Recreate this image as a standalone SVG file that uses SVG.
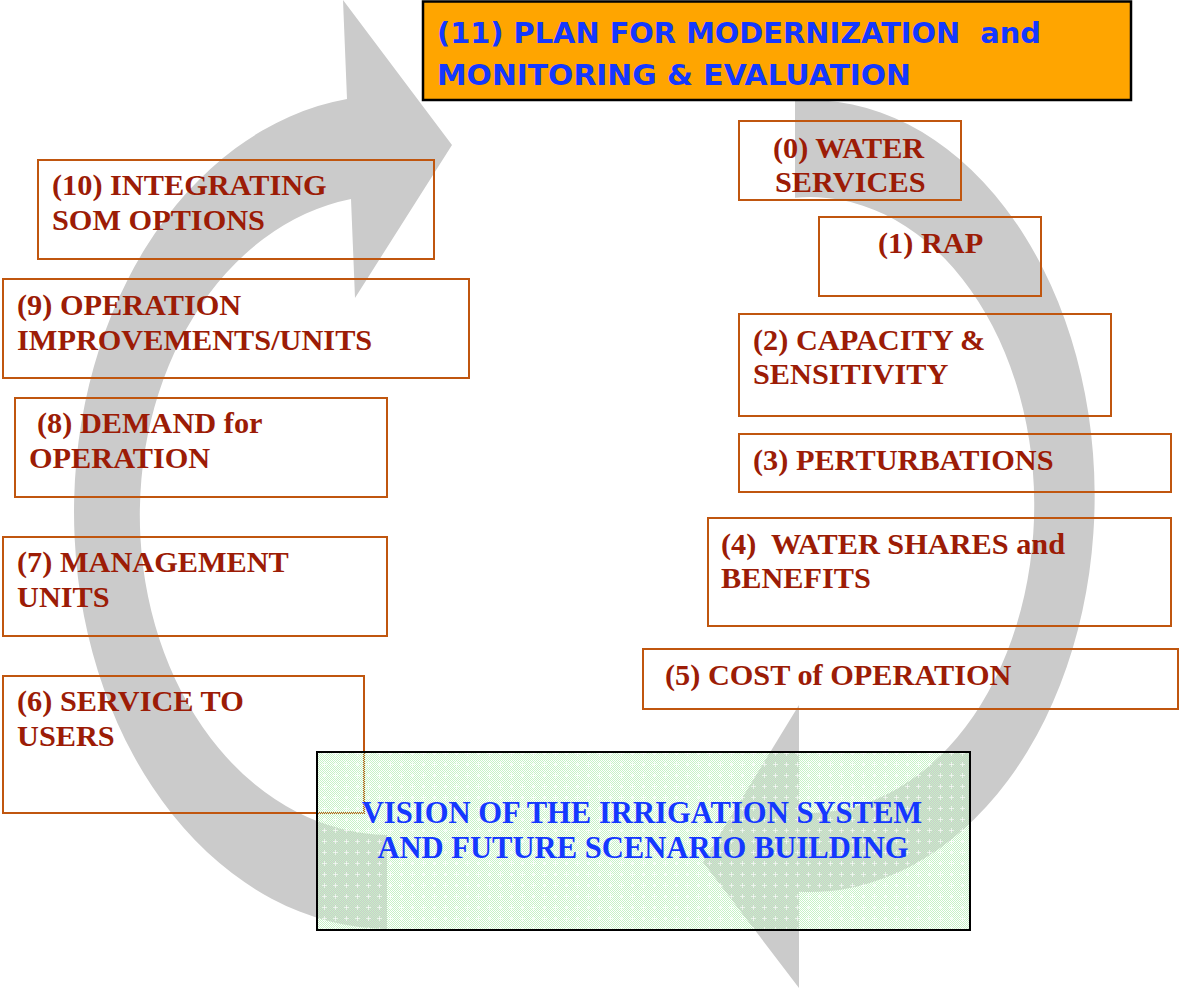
<svg xmlns="http://www.w3.org/2000/svg" width="1179" height="989" viewBox="0 0 1179 989">
<style>
.box{fill:none;stroke:#c0560f;stroke-width:2}
.lbl{font-family:"Liberation Serif","Times New Roman",serif;font-weight:bold;font-size:30.3px;fill:#9c1c06}
.vis{font-family:"Liberation Serif","Times New Roman",serif;font-weight:bold;font-size:30.6px;fill:#1438ff}
.plan{font-family:"DejaVu Sans",sans-serif;font-weight:bold;font-size:29px;fill:#1438ff}
.arrow{fill:#cbcbcb}
</style>
<defs>
<pattern id="chk" width="2" height="2" patternUnits="userSpaceOnUse">
<rect x="0" y="0" width="1" height="1" fill="#c6f2c6"/>
<rect x="1" y="1" width="1" height="1" fill="#c6f2c6"/>
</pattern>
<pattern id="crs" width="11" height="11" patternUnits="userSpaceOnUse">
<rect x="5" y="3" width="1" height="5" fill="#ffffff" fill-opacity="0.6"/>
<rect x="3" y="5" width="5" height="1" fill="#ffffff" fill-opacity="0.6"/>
</pattern>
</defs>
<rect width="1179" height="989" fill="#ffffff"/>
<g id="connectors">
<path class="arrow" d="M387,929 A316,417 0 0 1 347,98.9 L343,0 L452,145 L355,298 L351,198.9 A250,320 0 0 0 387,835 Z"/>
<path class="arrow" d="M795,100.5 A285,396 0 1 1 799,891.7 L799,988 L703,862 L799,705 L799,812.6 A224,308 0 1 0 795,197.7 Z"/>
</g>
<g id="n11">
<rect x="423" y="1.5" width="708" height="98.5" fill="#ffa500" stroke="#000" stroke-width="2.5"/>
<text class="plan" x="437" y="43" textLength="604" lengthAdjust="spacingAndGlyphs" xml:space="preserve">(11) PLAN FOR MODERNIZATION  and</text>
<text class="plan" x="437" y="85" textLength="474" lengthAdjust="spacingAndGlyphs">MONITORING &amp; EVALUATION</text>
</g>
<g id="n0">
<rect class="box" x="739" y="121" width="222" height="79"/>
<text class="lbl" x="773" y="158">(0) WATER</text>
<text class="lbl" x="775" y="192">SERVICES</text>
</g>
<g id="n1">
<rect class="box" x="819" y="217" width="222" height="79"/>
<text class="lbl" x="878" y="253">(1) RAP</text>
</g>
<g id="n2">
<rect class="box" x="739" y="314" width="372" height="102"/>
<text class="lbl" x="753" y="350">(2) CAPACITY &amp;</text>
<text class="lbl" x="753" y="384">SENSITIVITY</text>
</g>
<g id="n3">
<rect class="box" x="739" y="434" width="432" height="58"/>
<text class="lbl" x="753" y="470">(3) PERTURBATIONS</text>
</g>
<g id="n4">
<rect class="box" x="708" y="518" width="463" height="108"/>
<text class="lbl" x="721" y="554" xml:space="preserve">(4)  WATER SHARES and</text>
<text class="lbl" x="721" y="588">BENEFITS</text>
</g>
<g id="n5">
<rect class="box" x="643" y="649" width="535" height="60"/>
<text class="lbl" x="665" y="685">(5) COST of OPERATION</text>
</g>
<g id="n10">
<rect class="box" x="38" y="160" width="396" height="99"/>
<text class="lbl" x="52" y="195">(10) INTEGRATING</text>
<text class="lbl" x="52" y="230">SOM OPTIONS</text>
</g>
<g id="n9">
<rect class="box" x="3" y="279" width="466" height="99"/>
<text class="lbl" x="17" y="315">(9) OPERATION</text>
<text class="lbl" x="17" y="350">IMPROVEMENTS/UNITS</text>
</g>
<g id="n8">
<rect class="box" x="15" y="398" width="372" height="99"/>
<text class="lbl" x="37" y="433">(8) DEMAND for</text>
<text class="lbl" x="29" y="468">OPERATION</text>
</g>
<g id="n7">
<rect class="box" x="3" y="537" width="384" height="99"/>
<text class="lbl" x="17" y="572">(7) MANAGEMENT</text>
<text class="lbl" x="17" y="607">UNITS</text>
</g>
<g id="n6">
<rect class="box" x="3" y="676" width="361" height="137"/>
<text class="lbl" x="17" y="711">(6) SERVICE TO</text>
<text class="lbl" x="17" y="746">USERS</text>
</g>
<g id="vision">
<rect x="317" y="752" width="653" height="178" fill="url(#chk)"/>
<rect x="317" y="752" width="653" height="178" fill="url(#crs)"/>
<rect x="317" y="752" width="653" height="178" fill="none" stroke="#000" stroke-width="2"/>
<text class="vis" x="642" y="823" text-anchor="middle">VISION OF THE IRRIGATION SYSTEM</text>
<text class="vis" x="643" y="858" text-anchor="middle">AND FUTURE SCENARIO BUILDING</text>
</g>
</svg>
